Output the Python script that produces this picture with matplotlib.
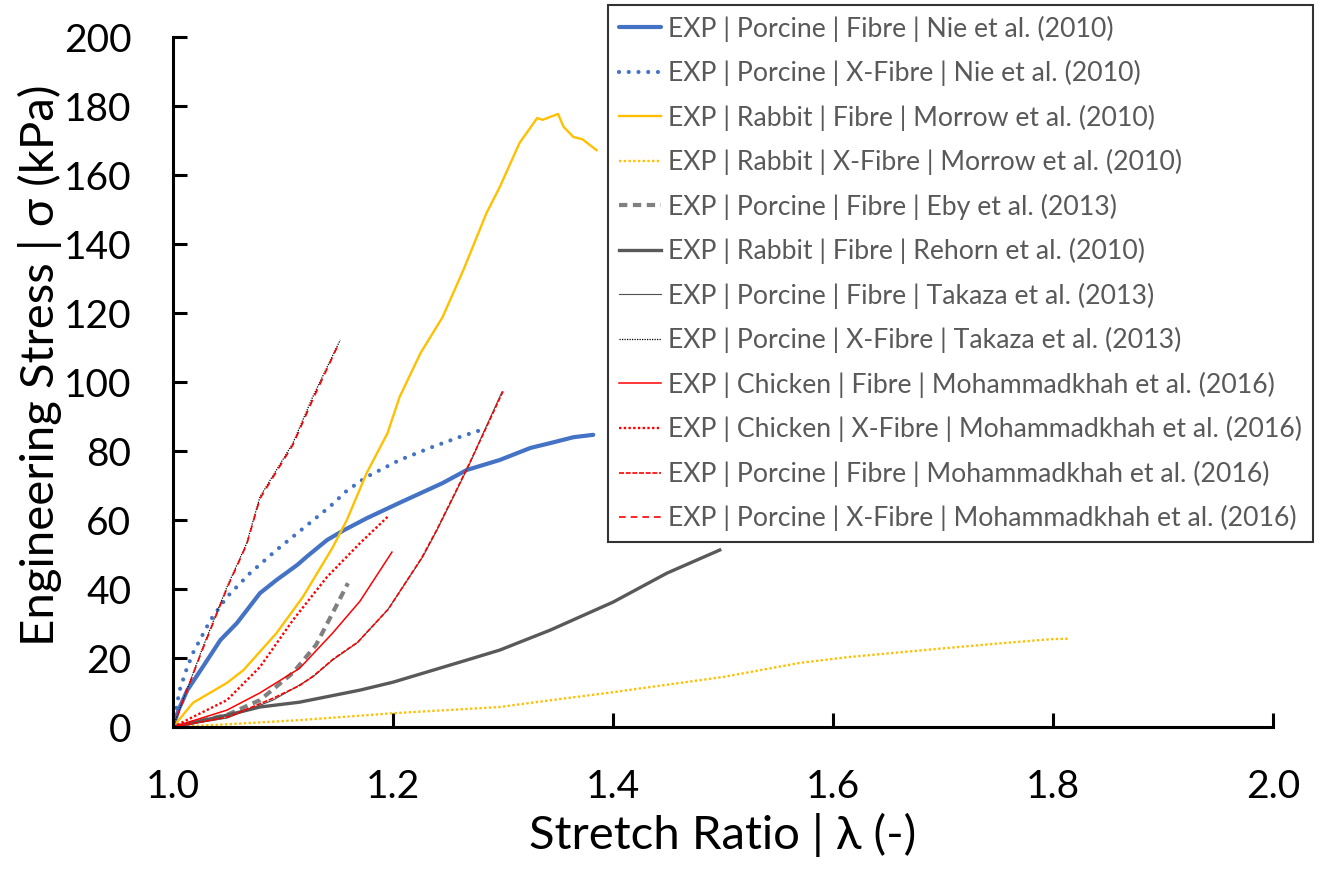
import matplotlib
matplotlib.use("Agg")
import matplotlib.pyplot as plt

plt.rcParams['font.family'] = ['Lato', 'DejaVu Sans']
plt.rcParams['lines.scale_dashes'] = False

# Stress-stretch data, read per series (stretch ratio, engineering stress in kPa)
nie_f_x = [1.0, 1.005, 1.013, 1.027, 1.043, 1.058, 1.079, 1.094, 1.113, 1.122, 1.14, 1.155,
           1.176, 1.206, 1.245, 1.267, 1.297, 1.325, 1.343, 1.364, 1.382]
nie_f_y = [0, 5, 10.7, 17.4, 25.2, 30.1, 38.8, 42.6, 47, 49.5, 54.2, 57,
           60.5, 65, 70.7, 74.5, 77.4, 80.9, 82.3, 84, 84.7]

nie_x_x = [1.0, 1.003, 1.006, 1.012, 1.018, 1.034, 1.049, 1.07, 1.094, 1.118, 1.143, 1.158,
           1.176, 1.206, 1.236, 1.26, 1.28]
nie_x_y = [0, 5.5, 10.7, 16.5, 21.4, 31, 37.7, 44.6, 51.3, 57.5, 64, 68.5,
           72.5, 77.4, 81.2, 84, 86.1]

morrow_f_x = [1.0, 1.018, 1.049, 1.064, 1.094, 1.118, 1.145, 1.158, 1.176, 1.195, 1.206, 1.225,
              1.245, 1.264, 1.285, 1.297, 1.315, 1.331, 1.336, 1.35, 1.355, 1.364, 1.372, 1.385]
morrow_f_y = [0, 7, 12.8, 16.5, 27.2, 37.7, 52, 60, 73.6, 85.2, 95.7, 108.4,
              118.8, 132.5, 149, 156.5, 169.3, 176.5, 176, 177.7, 174, 171, 170.4, 167.2]

morrow_x_x = [1.0, 1.05, 1.115, 1.2, 1.297, 1.325, 1.4, 1.5, 1.57, 1.615, 1.7, 1.75, 1.8, 1.815]
morrow_x_y = [0, 0.8, 2, 4, 5.8, 7, 10.1, 14.5, 18.6, 20.3, 22.8, 24.2, 25.5, 25.6]

eby_x = [1.0, 1.049, 1.079, 1.109, 1.13, 1.145, 1.159]
eby_y = [0, 3.5, 7.8, 15.7, 23.8, 33, 41.7]

rehorn_x = [1.0, 1.05, 1.079, 1.115, 1.17, 1.2, 1.267, 1.297, 1.343, 1.4, 1.449, 1.497]
rehorn_y = [0, 3.5, 5.8, 7.2, 10.7, 13, 19.4, 22.3, 28.1, 36.2, 44.6, 51.3]

takaza_f_x = [1.0, 1.049, 1.091, 1.115, 1.127, 1.145, 1.167, 1.195, 1.227, 1.24, 1.258, 1.27,
              1.282, 1.299]
takaza_f_y = [0, 2.6, 7.8, 12.2, 14.5, 19.4, 24.3, 33.9, 49.3, 57.1, 68.7, 76.5,
              85.2, 97.1]

takaza_x_x = [1.0, 1.025, 1.049, 1.067, 1.079, 1.109, 1.127, 1.152]
takaza_x_y = [0, 21.4, 40.6, 53.3, 66.7, 82.3, 95.7, 112.2]

moh_cf_x = [1.0, 1.049, 1.079, 1.115, 1.145, 1.17, 1.199]
moh_cf_y = [0, 4.9, 9.9, 17, 27.2, 36.5, 50.7]

moh_cx_x = [1.0, 1.018, 1.049, 1.079, 1.109, 1.14, 1.17, 1.195]
moh_cx_y = [0, 2.9, 7.8, 17.4, 31, 43.5, 53.3, 60.9]

moh_pf_x = [1.0, 1.05, 1.09, 1.115, 1.128, 1.146, 1.168, 1.196, 1.226, 1.24, 1.258, 1.27,
            1.283, 1.3]
moh_pf_y = [0, 2.9, 8.2, 12.0, 14.9, 19.8, 24.6, 34.3, 49.0, 57.3, 68.9, 76.8,
            85.6, 97.3]

moh_px_x = [1.0, 1.025, 1.049, 1.067, 1.079, 1.109, 1.127, 1.149]
moh_px_y = [0, 21.0, 40.2, 53.0, 66.2, 81.8, 94.9, 110.0]

labels = [
    "EXP | Porcine | Fibre | Nie et al. (2010)",
    "EXP | Porcine | X-Fibre | Nie et al. (2010)",
    "EXP | Rabbit | Fibre | Morrow et al. (2010)",
    "EXP | Rabbit | X-Fibre | Morrow et al. (2010)",
    "EXP | Porcine | Fibre | Eby et al. (2013)",
    "EXP | Rabbit | Fibre | Rehorn et al. (2010)",
    "EXP | Porcine | Fibre | Takaza et al. (2013)",
    "EXP | Porcine | X-Fibre | Takaza et al. (2013)",
    "EXP | Chicken | Fibre | Mohammadkhah et al. (2016)",
    "EXP | Chicken | X-Fibre | Mohammadkhah et al. (2016)",
    "EXP | Porcine | Fibre | Mohammadkhah et al. (2016)",
    "EXP | Porcine | X-Fibre | Mohammadkhah et al. (2016)",
]

blue = '#4472C4'
gold = '#FFC000'

fig = plt.figure(figsize=(13.19, 8.71), dpi=100)
ax = fig.add_axes([0.1312, 0.1653, 0.8339, 0.7922])

ax.plot(nie_f_x, nie_f_y, color=blue, lw=3.0, label=labels[0], solid_capstyle='round')
ax.plot(nie_x_x, nie_x_y, color=blue, lw=3.0, dashes=(0.01, 7.0), dash_capstyle='round',
        label=labels[1])
ax.plot(morrow_f_x, morrow_f_y, color=gold, lw=1.7, label=labels[2])
ax.plot(morrow_x_x, morrow_x_y, color=gold, lw=1.7, dashes=(1.7, 1.7), label=labels[3])
ax.plot(eby_x, eby_y, color='#808080', lw=3.0, dashes=(6, 4), label=labels[4])
ax.plot(rehorn_x, rehorn_y, color='#595959', lw=2.4, label=labels[5])
ax.plot(takaza_f_x, takaza_f_y, color='#505050', lw=0.8, label=labels[6])
ax.plot(takaza_x_x, takaza_x_y, color='black', lw=0.9, dashes=(0.9, 0.9), label=labels[7])
ax.plot(moh_cf_x, moh_cf_y, color='#FF0000', lw=1.1, label=labels[8])
ax.plot(moh_cx_x, moh_cx_y, color='#FF0000', lw=1.7, dashes=(1.7, 1.7), label=labels[9])
ax.plot(moh_pf_x, moh_pf_y, color='#FF0000', lw=1.2, dashes=(3.6, 1.2), label=labels[10])
ax.plot(moh_px_x, moh_px_y, color='#FF0000', lw=1.2, dashes=(4.8, 3.6), label=labels[11])

ax.set_xlim(1.0, 2.0)
ax.set_ylim(0, 200)
ax.set_xticks([1.0, 1.2, 1.4, 1.6, 1.8, 2.0])
ax.set_xticklabels(['1.0', '1.2', '1.4', '1.6', '1.8', '2.0'])
ax.set_yticks(range(0, 201, 20))

for side in ['top', 'right']:
    ax.spines[side].set_visible(False)
for side in ['left', 'bottom']:
    ax.spines[side].set_linewidth(2.2)
ax.tick_params(direction='in', length=10, width=2.2, labelsize=28, pad=30)

ax.set_xlabel("Stretch Ratio | λ (-)", fontsize=34)
ax.set_ylabel("Engineering Stress | σ (kPa)", fontsize=34)
ax.xaxis.set_label_coords(0.5, -0.125)
ax.yaxis.set_label_coords(-0.101, 0.525)

leg = ax.legend(loc='upper right', bbox_to_anchor=(0.9955, 0.9943),
                bbox_transform=fig.transFigure, fontsize=19.2, frameon=True,
                fancybox=False, edgecolor='black', handlelength=1.6,
                handletextpad=0.27, labelspacing=0.69, borderpad=0.4, borderaxespad=0)
leg.get_frame().set_linewidth(1.5)
for t in leg.get_texts():
    t.set_color('#595959')

fig.savefig('out.png', dpi=100)
